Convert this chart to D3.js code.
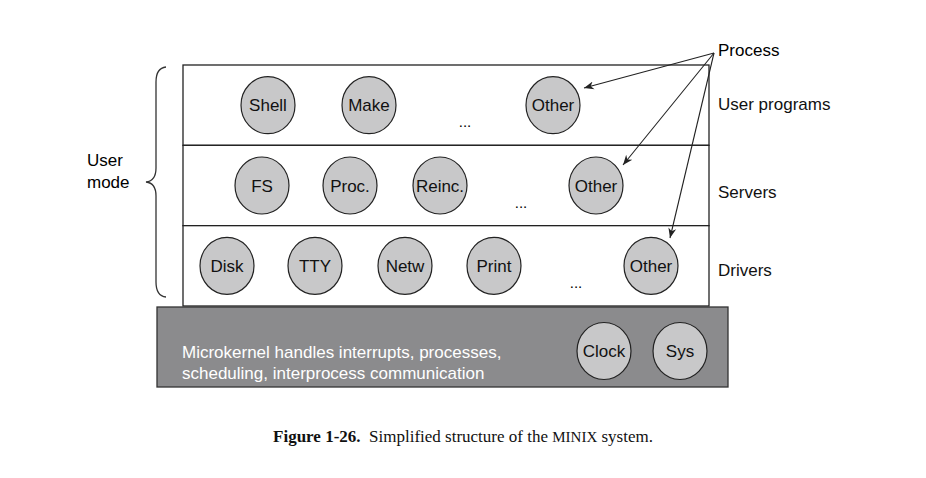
<!DOCTYPE html>
<html><head><meta charset="utf-8">
<script src="https://cdn.jsdelivr.net/npm/d3@7"></script>
<style>body{margin:0;background:#fff}text{font-family:"Liberation Sans",Arial,sans-serif}</style>
</head><body><svg id="c" width="926" height="478"></svg>
<script>
// layers, top to bottom
const layers = ["User programs", "Servers", "Drivers"];
const userProcs = ["Shell", "Make", "...", "Other"];
const serverProcs = ["FS", "Proc.", "Reinc.", "...", "Other"];
const driverProcs = ["Disk", "TTY", "Netw", "Print", "...", "Other"];
const kernelProcs = ["Clock", "Sys"];
const kernelText = ["Microkernel handles interrupts, processes,", "scheduling, interprocess communication"];

// layout (pixel positions of slot centres per row)
const rowX = [[268, 369, 465, 553], [262, 350, 440, 521, 596], [227, 315, 405, 494, 576, 651]];
const kernelX = [604, 680];
const rows = [userProcs, serverProcs, driverProcs];

const svg = d3.select("#c");
const y = d3.scaleBand().domain(layers).range([65, 306]);
const bx0 = 183, bx1 = 709;

layers.forEach((l, i) => {
  svg.append("rect").attr("x", bx0).attr("y", y(l)).attr("width", bx1 - bx0).attr("height", y.bandwidth())
    .attr("fill", "#fff").attr("stroke", "#222").attr("stroke-width", 1.3);
  svg.append("text").attr("x", 718).attr("y", y(l) + y.bandwidth() / 2 + [-1, 6, 4][i] + 6)
    .attr("font-size", 17).attr("fill", "#111").text(l);
  const cy = y(l) + y.bandwidth() / 2;
  rows[i].forEach((p, j) => {
    const cx = rowX[i][j];
    if (p === "...") {
      svg.append("text").attr("x", cx).attr("y", cy + 22).attr("text-anchor", "middle").attr("font-size", 15).text("...");
      return;
    }
    svg.append("ellipse").attr("cx", cx).attr("cy", cy).attr("rx", 27).attr("ry", 28.5)
      .attr("fill", "#c8c8c9").attr("stroke", "#222").attr("stroke-width", 1.2);
    svg.append("text").attr("x", cx).attr("y", cy + 6).attr("text-anchor", "middle").attr("font-size", 17).attr("fill", "#111").text(p);
  });
});

// kernel
svg.append("rect").attr("x", 157).attr("y", 307).attr("width", 571).attr("height", 80)
  .attr("fill", "#8b8b8d").attr("stroke", "#333").attr("stroke-width", 1.3);
kernelText.forEach((t, i) => svg.append("text").attr("x", 182).attr("y", 358 + i * 21)
  .attr("font-size", 17).attr("fill", "#fff").text(t));
kernelProcs.forEach((p, j) => {
  svg.append("ellipse").attr("cx", kernelX[j]).attr("cy", 351).attr("rx", 27).attr("ry", 28.5)
    .attr("fill", "#c8c8c9").attr("stroke", "#222").attr("stroke-width", 1.2);
  svg.append("text").attr("x", kernelX[j]).attr("y", 357).attr("text-anchor", "middle").attr("font-size", 17).attr("fill", "#111").text(p);
});

// brace
svg.append("path").attr("fill", "none").attr("stroke", "#333").attr("stroke-width", 1.3)
  .attr("d", "M166,67 Q156,68 156,82 L156,168 Q156,181 146,182 Q156,183 156,196 L156,282 Q156,296 166,297");
svg.append("text").attr("x", 87).attr("y", 166).attr("font-size", 17).text("User");
svg.append("text").attr("x", 87).attr("y", 188).attr("font-size", 17).text("mode");

// process arrows
svg.append("defs").append("marker").attr("id", "ah").attr("viewBox", "0 0 10 10").attr("refX", 10).attr("refY", 5)
  .attr("markerWidth", 9).attr("markerHeight", 9).attr("orient", "auto")
  .append("path").attr("d", "M0,1 L10,5 L0,9 L3,5 Z").attr("fill", "#222");
svg.append("text").attr("x", 718).attr("y", 56).attr("font-size", 17).text("Process");
[[584, 88], [623, 165], [670, 238]].forEach(([tx, ty]) =>
  svg.append("line").attr("x1", 714).attr("y1", 53).attr("x2", tx).attr("y2", ty)
    .attr("stroke", "#222").attr("stroke-width", 1.1).attr("marker-end", "url(#ah)"));

// caption
const cap = svg.append("text").attr("x", 463).attr("y", 442).attr("text-anchor", "middle")
  .attr("font-size", 17).style("font-family", "'Liberation Serif',serif").attr("fill", "#111");
cap.append("tspan").attr("font-weight", "bold").text("Figure 1-26.");
cap.append("tspan").text("\u00a0 Simplified structure of the ");
cap.append("tspan").attr("font-size", 15).text("MINIX");
cap.append("tspan").text(" system.");
</script></body></html>
